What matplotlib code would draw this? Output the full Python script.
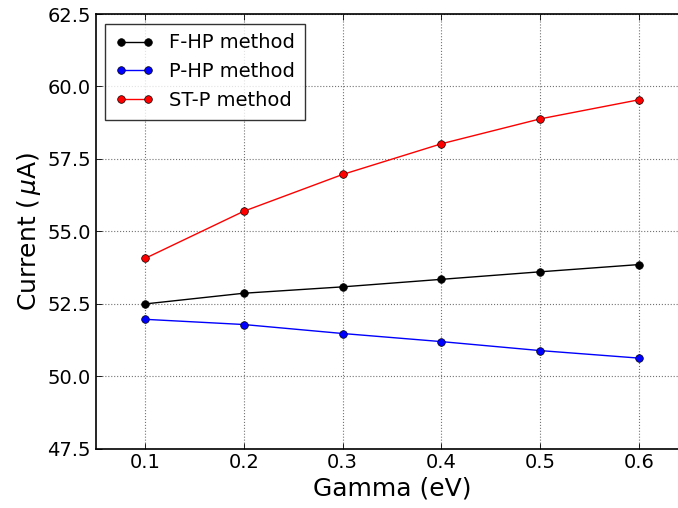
import matplotlib
matplotlib.use("Agg")
import matplotlib.pyplot as plt
from matplotlib.transforms import Bbox

# Daten
gamma = [0.1, 0.2, 0.3, 0.4, 0.5, 0.6]
fhp = [52.49, 52.86, 53.08, 53.34, 53.60, 53.85]
php = [51.96, 51.78, 51.47, 51.19, 50.88, 50.62]
stp = [54.06, 55.69, 56.96, 58.02, 58.88, 59.54]

xticks = [0.1, 0.2, 0.3, 0.4, 0.5, 0.6]
yticks = [47.5, 50.0, 52.5, 55.0, 57.5, 60.0, 62.5]

plt.rcParams['font.family'] = 'DejaVu Sans'
plt.rcParams['mathtext.fontset'] = 'dejavusans'

# Figur etwas breiter zeichnen, danach rechts abschneiden (wie im Original)
W, H = 7.2, 5.08
fig = plt.figure(figsize=(W, H), dpi=100)
ax = fig.add_axes([95.5 / 720, 59.5 / 508, 593.0 / 720, 434.5 / 508])

stil = dict(marker='o', markersize=5.5, markeredgecolor='k',
            markeredgewidth=0.5, linewidth=1.0)
ax.plot(gamma, fhp, color='k', label='F-HP method', **stil)
ax.plot(gamma, php, color='b', label='P-HP method', **stil)
ax.plot(gamma, stp, color='r', label='ST-P method', **stil)

ax.set_xlim(0.05, 0.65)
ax.set_ylim(47.5, 62.5)
ax.set_xticks(xticks)
ax.set_yticks(yticks)
ax.set_yticklabels(['%.1f' % v for v in yticks])
ax.tick_params(direction='in', top=True, right=True, labelsize=14,
               length=4, width=0.6, pad=3.5)
ax.grid(True, linestyle=':', color='0.45', linewidth=0.8)
for s in ax.spines.values():
    s.set_linewidth(1.2)

ax.set_xlabel('Gamma (eV)', fontsize=18, labelpad=3)
ax.set_ylabel(r'Current ($\,\mu$A)', fontsize=18, labelpad=3)

leg = ax.legend(loc='upper left', fontsize=14, numpoints=2, fancybox=False,
                handlelength=2.0, handletextpad=0.8, borderaxespad=0.5,
                labelspacing=0.5, borderpad=0.5)
leg.get_frame().set_edgecolor('k')
leg.get_frame().set_linewidth(1.0)

fig.savefig('out.png', dpi=100, facecolor='white',
            bbox_inches=Bbox([[0, 0], [6.78, 5.08]]))
